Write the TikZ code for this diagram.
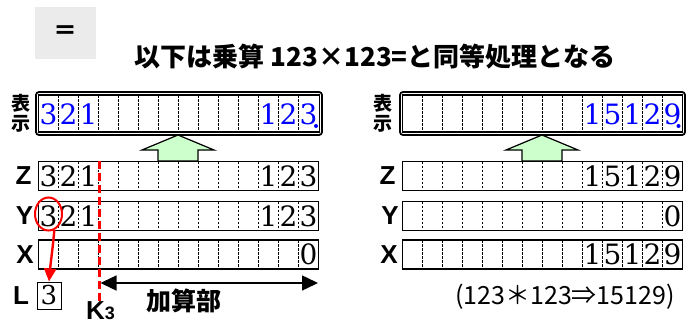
\documentclass[tikz,border=0pt]{standalone}
\usepackage{fontspec}
\newfontfamily\jp{Noto Sans CJK JP}
\newfontfamily\lab{Liberation Sans}
\newfontfamily\digf{DejaVu Serif}
\usetikzlibrary{arrows.meta,shapes.geometric}
\definecolor{btngray}{HTML}{EBEBEB}
\definecolor{arrowgreen}{HTML}{CCFFCC}
\definecolor{dispblue}{HTML}{0000FF}
\definecolor{kred}{HTML}{FF0000}

\tikzset{
  reg/.style={draw, line width=1.5pt, minimum width=280pt, minimum height=29pt, inner sep=0pt, outer sep=0pt},
  dispin/.style={draw, line width=1.3pt, minimum height=37pt, inner sep=0pt, outer sep=0pt},
  dispout/.style={draw, line width=1.8pt, rounded corners=3pt},
  celldiv/.style={line width=0.6pt, dash pattern=on 2.5pt off 1.5pt},
  dig/.style={font=\digf\fontsize{28}{28}\selectfont, inner sep=0pt},
  bdig/.style={dig, text=dispblue},
  rlab/.style={font=\lab\bfseries\fontsize{26}{26}\selectfont, inner sep=0pt},
  jlab/.style={font=\jp\bfseries\fontsize{19}{20}\selectfont, inner sep=0pt, align=center},
  uparrow/.style={fill=arrowgreen, draw=black, line width=1.2pt, line join=miter},
}

% name, x0, ytop
\newcommand\regrow[3]{%
  \node[reg, anchor=north west] (#1) at (#2,#3) {};
  \foreach \i in {1,...,13} \draw[celldiv] (#2+20*\i,#3) -- (#2+20*\i,#3+29);
}
% prefix, style, x0, ycenter, first cell, list
\newcommand\putdigits[6]{%
  \foreach \d [count=\k from #5] in {#6} \node[#2] (#1\k) at (#3+10+20*\k,#4) {\d};
}
% name, center x
\newcommand\greenup[2]{%
  \coordinate (#1) at (#2,135);
  \draw[uparrow] (#1) -- ++(36,15) -- ++(-16,0) -- ++(0,11) -- ++(-40,0) -- ++(0,-11) -- ++(-16,0) -- cycle;
}

\begin{document}
\begin{tikzpicture}[x=1pt,y=-1pt]
\useasboundingbox (0,0) rectangle (688,321);

% button and title
\node[fill=btngray, minimum width=61pt, minimum height=52pt, inner sep=0pt,
      font=\jp\bfseries\fontsize{24}{24}\selectfont] (btn) at (65.5,33) {＝};
\node[font=\jp\bfseries\fontsize{26}{26}\selectfont, inner sep=0pt] (title) at (375,57)
  {以下は乗算 123×123=と同等処理となる};

% ---------------- left panel ----------------
\draw[dispout] (36,92) rectangle (322,135);
\node[dispin, minimum width=281pt, anchor=north west] (LD) at (38.5,95) {};
\foreach \i in {1,...,13} \draw[celldiv] (38.5+20*\i,95) -- (38.5+20*\i,132);
\putdigits{LDa}{bdig}{38.5}{114}{0}{3,2,1}
\putdigits{LDb}{bdig}{38.5}{114}{11}{1,2,3}
\fill[dispblue] (316,126) circle (2);
\node[jlab] (LDlab) at (21,113) {表\\示};

\greenup{LG}{178}

\regrow{LZ}{38.5}{161.5}
\regrow{LY}{38.5}{201.5}
\regrow{LX}{38.5}{240}
\node[rlab] (LZlab) at (23.5,176) {Z};
\node[rlab] (LYlab) at (24.5,216) {Y};
\node[rlab] (LXlab) at (25,254.5) {X};
\putdigits{LZa}{dig}{38.5}{176}{0}{3,2,1}
\putdigits{LZb}{dig}{38.5}{176}{11}{1,2,3}
\putdigits{LYa}{dig}{38.5}{216}{0}{3,2,1}
\putdigits{LYb}{dig}{38.5}{216}{11}{1,2,3}
\putdigits{LXa}{dig}{38.5}{254.5}{13}{0}

% L register
\node[draw, line width=1pt, minimum width=24pt, minimum height=27pt, inner sep=0pt,
      font=\digf\fontsize{26}{26}\selectfont] (Lbox) at (49,295.5) {3};
\node[rlab] (Llab) at (21,295.5) {L};

% red ellipse and arrow
\node[ellipse, draw=kred, line width=2pt, minimum width=27pt, minimum height=33pt, inner sep=0pt] (ell) at (48.5,214) {};
\draw[kred, line width=2.4pt, -{Triangle[length=13pt,width=12pt]}] (ell.-70) to[out=-95,in=85] (Lbox.north);

% K3 line
\coordinate (Ktop) at (99.5,161);
\coordinate (Kbot) at (99.5,301);
\draw[kred, line width=2.2pt, dash pattern=on 8pt off 4pt] (Ktop) -- (Kbot);
\node[rlab, anchor=base west] (K3) at (86,319.5) {K{\fontsize{18}{18}\selectfont 3}};

% add range arrow
\coordinate (arL) at (100.5,283);
\coordinate (arR) at (318,283);
\draw[line width=1.5pt, {Triangle[length=16pt,width=15pt]}-{Triangle[length=16pt,width=15pt]}] (arL) -- (arR);
\node[font=\jp\bfseries\fontsize{25}{25}\selectfont, inner sep=0pt] (addlab) at (184,301) {加算部};

% ---------------- right panel ----------------
\draw[dispout] (400,92) rectangle (685,135);
\node[dispin, minimum width=280pt, anchor=north west] (RD) at (402.5,95) {};
\foreach \i in {1,...,13} \draw[celldiv] (402.5+20*\i,95) -- (402.5+20*\i,132);
\putdigits{RDa}{bdig}{402.5}{114}{9}{1,5,1,2,9}
\fill[dispblue] (678.5,126) circle (2);
\node[jlab] (RDlab) at (383,113) {表\\示};

\greenup{RG}{542}

\regrow{RZ}{402.5}{161.5}
\regrow{RY}{402.5}{201.5}
\regrow{RX}{402.5}{240}
\node[rlab] (RZlab) at (387.5,176) {Z};
\node[rlab] (RYlab) at (390,216) {Y};
\node[rlab] (RXlab) at (389,254.5) {X};
\putdigits{RZa}{dig}{402.5}{176}{9}{1,5,1,2,9}
\putdigits{RYa}{dig}{402.5}{216}{13}{0}
\putdigits{RXa}{dig}{402.5}{254.5}{9}{1,5,1,2,9}

\node[font=\jp\fontsize{25}{25}\selectfont, inner sep=0pt] (res) at (565,297) {(123＊123⇒15129)};

\end{tikzpicture}
\end{document}
